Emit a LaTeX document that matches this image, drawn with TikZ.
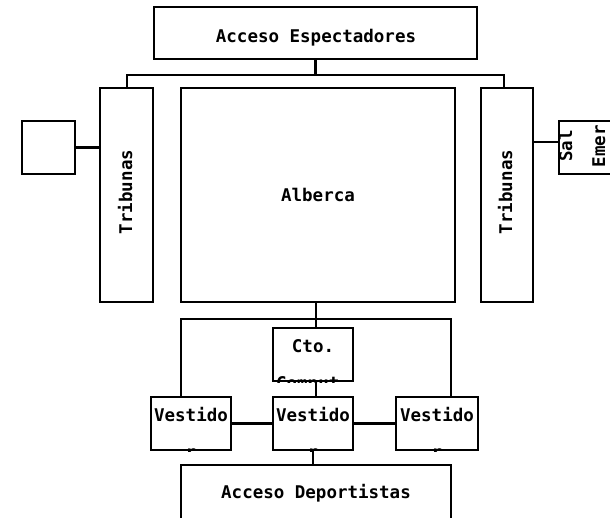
\documentclass[tikz,border=0pt]{standalone}
\usepackage{fontspec}
\newfontfamily\pixfont{DejaVu Sans Mono}
\begin{document}
\begin{tikzpicture}[x=1pt,y=-1pt,
  box/.style={draw=black, rectangle, inner sep=0pt, line width=2.6pt},
  lbl/.style={font=\pixfont\bfseries\fontsize{17.5}{20}\selectfont, inner sep=0pt, anchor=base},
  wire/.style={draw=black, line width=2.6pt, line join=miter}]
\clip (0,0) rectangle (610,517);
\fill[white] (0,0) rectangle (610,517);

% boxes
\node[box, minimum width=323pt, minimum height=52pt] (top) at (315.5,33) {};
\node[box, minimum width=53pt, minimum height=214pt] (tribL) at (126.5,195) {};
\node[box, minimum width=53pt, minimum height=53pt] (sq) at (48.5,147.5) {};
\node[box, minimum width=274pt, minimum height=214pt] (alb) at (318,195) {};
\node[box, minimum width=52pt, minimum height=214pt] (tribR) at (507,195) {};
\node[box, minimum width=53pt, minimum height=53pt] (sal) at (585.5,147.5) {};
\node[box, minimum width=80pt, minimum height=53pt] (cto) at (313,354.5) {};
\node[box, minimum width=80pt, minimum height=53pt] (vl) at (191,423.5) {};
\node[box, minimum width=80pt, minimum height=53pt] (vm) at (313,423.5) {};
\node[box, minimum width=82pt, minimum height=53pt] (vr) at (437,423.5) {};
\node[box, minimum width=270pt, minimum height=56pt] (bot) at (316,493) {};

% labels
\node[lbl] (tTop) at (316,42) {Acceso Espectadores};
\node[lbl, rotate=90] (tTribL) at (132,192) {Tribunas};
\node[lbl, rotate=90] (tTribR) at (512,192) {Tribunas};
\node[lbl] (tAlb) at (318,201) {Alberca};
\node[lbl] (tBot) at (316,498) {Acceso Deportistas};
\begin{scope}
  \clip (sal.south west) rectangle (sal.north east);
  \node[lbl, rotate=90] (tSal1) at (572,146) {Sal};
  \node[lbl, rotate=90] (tSal2) at (605,146) {Emer};
\end{scope}
\begin{scope}
  \clip (cto.south west) rectangle (cto.north east);
  \node[lbl] (tCto1) at (313,352) {Cto.};
  \node[lbl] (tCto2) at (313,389) {Comput.};
\end{scope}
\foreach \b/\x in {vl/191, vm/313, vr/437}{
  \begin{scope}
    \clip (\b.south west) rectangle (\b.north east);
    \node[lbl] (t\b1) at (\x,421) {Vestido};
    \node[lbl] (t\b2) at (\x,458) {r};
  \end{scope}
}

% connectors
\coordinate (busL) at (127,75);
\coordinate (busR) at (504,75);
\draw[wire] (top.south) -- (top.south |- busL);
\draw[wire] (busL |- tribL.north) -- (busL) -- (busR) -- (busR |- tribR.north);
\draw[wire] (sq.east) -- (tribL.west |- sq.east);
\coordinate (salc) at (546,142);
\draw[wire] (tribR.east |- salc) -- (sal.west |- salc);

\coordinate (j1) at (316,319);
\coordinate (bus2L) at (181,319);
\coordinate (bus2R) at (451,319);
\draw[wire] (j1 |- alb.south) -- (j1 |- cto.north);
\draw[wire] (bus2L |- vl.north) -- (bus2L) -- (bus2R) -- (bus2R |- vr.north);
\draw[wire] (j1 |- cto.south) -- (j1 |- vm.north);
\draw[wire] (vl.east) -- (vm.west);
\draw[wire] (vm.east) -- (vr.west);
\draw[wire] (vm.south) -- (vm.south |- bot.north);
\end{tikzpicture}
\end{document}
